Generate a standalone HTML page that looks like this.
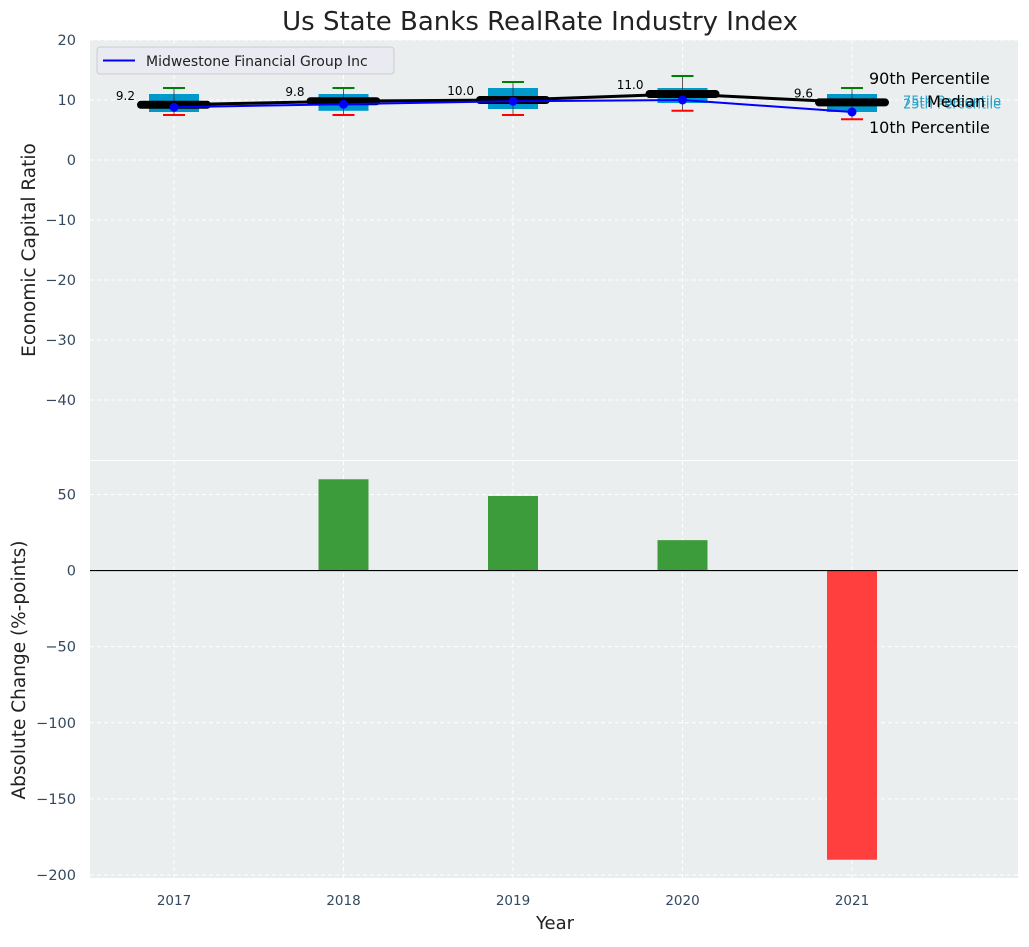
<!DOCTYPE html>
<html><head><meta charset="utf-8"><style>
body{margin:0;background:#fff;font-family:"Liberation Sans","DejaVu Sans",sans-serif}
svg text{font-family:"DejaVu Sans","Liberation Sans",sans-serif}
</style></head><body>
<svg id="c" width="1029" height="942" xmlns="http://www.w3.org/2000/svg"></svg>
<script>
const years=[2017,2018,2019,2020,2021];
const p10=[7.5,7.5,7.5,8.2,6.8];
const p25=[8,8.2,8.5,9.5,8];
const p75=[11,11,12,12,11];
const p90=[12,12,13,14,12];
const medians=[9.2,9.8,10.0,11.0,9.6];
const company=[8.8,9.3,9.8,10.0,8.0];
const changes=[0,60,49,20,-190];
const topTicks=[20,10,0,-10,-20,-30,-40];
const botTicks=[50,0,-50,-100,-150,-200];

const svg=document.getElementById('c');
const NS='http://www.w3.org/2000/svg';
function mk(t,a,p){const e=document.createElementNS(NS,t);for(const k in a)e.setAttribute(k,a[k]);(p||svg).appendChild(e);return e;}
const X0=90,X1=1018;
const x=v=>174+(v-2017)*169.5;
const yT=v=>40+(20-v)/70*420;
const yB=v=>461+(72-v)/274*417;

let e=mk('rect',{x:X0,y:40,width:X1-X0,height:420,fill:'#eaeeef'});

e=mk('rect',{x:X0,y:461,width:X1-X0,height:417,fill:'#eaeeef'});


years.forEach(yr=>{
 mk('line',{x1:x(yr),x2:x(yr),y1:40,y2:460,stroke:'#fff','stroke-dasharray':'4,3','stroke-width':1});
 mk('line',{x1:x(yr),x2:x(yr),y1:461,y2:878,stroke:'#fff','stroke-dasharray':'4,3','stroke-width':1});
 const t=mk('text',{x:x(yr),y:905,'text-anchor':'middle','font-size':13.5,fill:'#34495e'});t.textContent=yr;
 
});
topTicks.forEach(v=>{
 mk('line',{x1:X0,x2:X1,y1:yT(v),y2:yT(v),stroke:'#fff','stroke-dasharray':'4,3'});
 const t=mk('text',{x:76,y:yT(v)+5,'text-anchor':'end','font-size':14.5,fill:'#34495e'});t.textContent=v<0?'\u2212'+(-v):v;
 
});
botTicks.forEach(v=>{
 mk('line',{x1:X0,x2:X1,y1:yB(v),y2:yB(v),stroke:'#fff','stroke-dasharray':'4,3'});
 const t=mk('text',{x:76,y:yB(v)+5,'text-anchor':'end','font-size':14.5,fill:'#34495e'});t.textContent=v<0?'\u2212'+(-v):v;
 
});

const hw=25;
years.forEach((yr,i)=>{
 const cx=x(yr);
 const b=mk('rect',{x:cx-hw,y:yT(p75[i]),width:2*hw,height:yT(p25[i])-yT(p75[i]),fill:'#0099cc'});
 
 mk('line',{x1:cx,x2:cx,y1:yT(p90[i]),y2:yT(p10[i]),stroke:'#333','stroke-width':0.8});
 mk('line',{x1:cx-11,x2:cx+11,y1:yT(p90[i]),y2:yT(p90[i]),stroke:'green','stroke-width':2});
 mk('line',{x1:cx-11,x2:cx+11,y1:yT(p10[i]),y2:yT(p10[i]),stroke:'red','stroke-width':2});
});
let d='';years.forEach((yr,i)=>{d+=(i?'L':'M')+x(yr)+','+yT(medians[i]);});
e=mk('path',{d:d,stroke:'#000','stroke-width':3,fill:'none'});

years.forEach((yr,i)=>{
 const s=mk('line',{x1:x(yr)-33,x2:x(yr)+33,y1:yT(medians[i]),y2:yT(medians[i]),stroke:'#000','stroke-width':8,'stroke-linecap':'round'});
 
 const t=mk('text',{x:x(yr)-39,y:yT(medians[i])-5,'text-anchor':'end','font-size':12,fill:'#000'});t.textContent=medians[i].toFixed(1);
 
});
d='';years.forEach((yr,i)=>{d+=(i?'L':'M')+x(yr)+','+yT(company[i]);});
e=mk('path',{d:d,stroke:'#0000ff','stroke-width':2,fill:'none'});

years.forEach((yr,i)=>{const c=mk('circle',{cx:x(yr),cy:yT(company[i]),r:4.5,fill:'#0000ff'});
 });
const ly=yT(medians[4]);
[['75th Percentile',ly+3],['25th Percentile',ly+6]].forEach(a=>{
 const t=mk('text',{x:903,y:a[1],'font-size':13,fill:'#29a3cc'});t.textContent=a[0];
 });
[['90th Percentile',84],['Median',107],['10th Percentile',133]].forEach((a,i)=>{
 const t=mk('text',{x:i==1?927:869,y:a[1],'font-size':16,fill:'#000'});t.textContent=a[0];
 });

e=mk('rect',{x:97,y:47,width:297,height:27,rx:3,fill:'#eaeaf2',stroke:'#ccc'});

mk('line',{x1:103,x2:135,y1:60.5,y2:60.5,stroke:'#0000ff','stroke-width':2});
e=mk('text',{x:146,y:66,'font-size':14,fill:'#222'});e.textContent='Midwestone Financial Group Inc';


years.forEach((yr,i)=>{
 const v=changes[i];if(v===0)return;
 const r=mk('rect',{x:x(yr)-hw,y:Math.min(yB(v),yB(0)),width:2*hw,height:Math.abs(yB(v)-yB(0)),fill:v>0?'#3c9c3c':'#ff3e3e'});
 
});
mk('line',{x1:X0,x2:X1,y1:yB(0),y2:yB(0),stroke:'#000','stroke-width':1.2});

e=mk('text',{x:540,y:30,'text-anchor':'middle','font-size':26,fill:'#222'});e.textContent='Us State Banks RealRate Industry Index';

e=mk('text',{x:555,y:929,'text-anchor':'middle','font-size':18,fill:'#222'});e.textContent='Year';

e=mk('text',{x:0,y:0,'text-anchor':'middle','font-size':18.5,fill:'#222',transform:'translate(35,250) rotate(-90)'});e.textContent='Economic Capital Ratio';

e=mk('text',{x:0,y:0,'text-anchor':'middle','font-size':18.5,fill:'#222',transform:'translate(25,670) rotate(-90)'});e.textContent='Absolute Change (%-points)';

</script>
</body></html>
